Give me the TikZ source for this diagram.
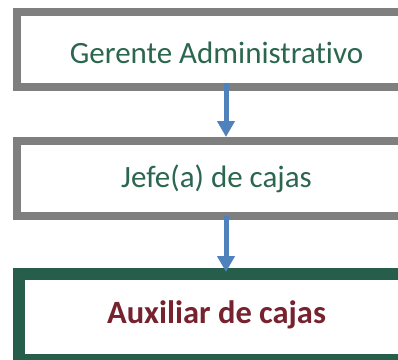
\documentclass[tikz,border=0pt]{standalone}
\usepackage{fontspec}
\setmainfont{Carlito}[Ligatures=NoCommon]
\usetikzlibrary{arrows.meta,positioning}

\definecolor{cajagris}{HTML}{7F7F7F}
\definecolor{cajaverde}{HTML}{265E4B}
\definecolor{textoverde}{HTML}{2B6650}
\definecolor{textoguinda}{HTML}{76222F}
\definecolor{flechaazul}{HTML}{4F81BD}

\begin{document}
\begin{tikzpicture}[
  node distance=46bp,
  % box cut off by the right page edge: colour, side border, bottom border
  puesto/.style n args={3}{fill=#1, outer sep=0pt, minimum width=385bp, minimum height=83bp,
    path picture={\fill[white] ([xshift=#2,yshift=-#2]path picture bounding box.north west)
      rectangle ([yshift=#3]path picture bounding box.south east);},
    text=textoverde, font=\fontsize{31bp}{36bp}\selectfont, text height=24bp, text depth=6bp,
    execute at begin node=\hspace*{22bp}},
  flecha/.style={-{Triangle[width=17bp,length=16bp]}, line width=5bp, draw=flechaazul}
]
  \useasboundingbox (0,0) rectangle (398bp,-360bp);

  \node[puesto={cajagris}{8bp}{8bp}, text height=27bp, text depth=0bp] (gerente) at (205.5bp,-49.5bp) {Gerente Administrativo};
  \node[puesto={cajagris}{8bp}{8bp}, below=of gerente] (jefe) {Jefe(a) de cajas};
  \node[puesto={cajaverde}{12bp}{6bp}, below=48bp of jefe, minimum height=92bp,
    text=textoguinda, font=\fontsize{32.5bp}{38bp}\selectfont\bfseries] (auxiliar) {Auxiliar de cajas};

  \draw[flecha, shorten <=-8bp] ([xshift=20.5bp]gerente.south) -- ([xshift=20.5bp]jefe.north);
  \draw[flecha, shorten <=-4bp, shorten >=-4bp] ([xshift=20.5bp]jefe.south) -- ([xshift=20.5bp]auxiliar.north);
\end{tikzpicture}
\end{document}
